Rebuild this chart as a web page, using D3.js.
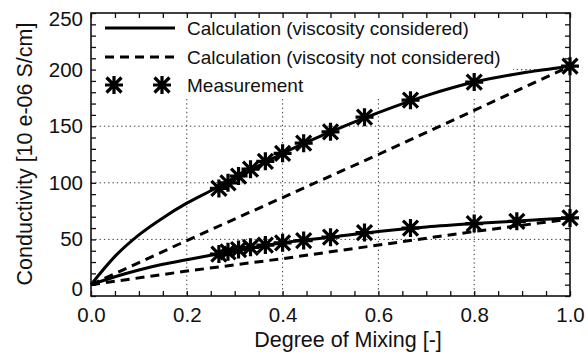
<!DOCTYPE html>
<html>
<head>
	<meta charset="utf-8">
	<style type="text/css">
		html, body {
			margin: 0;
			background-color: #fff;
		}
		svg text {
			font-family: "Liberation Sans", Arial, Helvetica, sans-serif;
			fill: #111;
		}
	</style>
</head>
<body>
	<svg id="chart" width="588" height="355"></svg>
	<script src="https://unpkg.com/d3@7.0.1/dist/d3.min.js"></script>
	<script type="text/javascript">
		// calculated curves
		const calcX = [0, 0.05, 0.1, 0.15, 0.2, 0.25, 0.3, 0.35, 0.4, 0.5, 0.6, 0.7, 0.8, 0.9, 1.0];
		const calcViscHigh = [10, 35, 54, 69, 82, 93, 104, 115, 126, 145, 162, 177, 189, 197, 203];
		const calcViscLow = [10, 17, 23, 28, 32, 36, 40, 43.5, 47, 52, 57, 61, 64, 66.5, 69];

		const noViscX = [0, 0.2, 0.4, 0.6, 0.8, 1.0];
		const noViscHigh = [10, 49, 87, 125, 164, 203];
		const noViscLow = [10, 22, 33, 45, 57, 68];

		// measurements
		const measHighX = [0.267, 0.286, 0.308, 0.333, 0.364, 0.4, 0.444, 0.5, 0.571, 0.667, 0.8, 1.0];
		const measHigh = [95, 100, 106, 112, 119, 126, 135, 145, 158, 173, 189, 203];
		const measLowX = [0.267, 0.286, 0.308, 0.333, 0.364, 0.4, 0.444, 0.5, 0.571, 0.667, 0.8, 0.889, 1.0];
		const measLow = [37, 39, 41, 43, 45, 47, 49, 52, 56, 60, 64, 66, 69];

		const xTicks = [0, 0.2, 0.4, 0.6, 0.8, 1.0];
		const yTicks = [0, 50, 100, 150, 200, 250];
		const legendLabels = ['Calculation (viscosity considered)', 'Calculation (viscosity not considered)', 'Measurement'];

		const svg = d3.select('#chart');
		const margin = { top: 13, right: 18, bottom: 59, left: 91 };
		const width = 588 - margin.left - margin.right;
		const height = 355 - margin.top - margin.bottom;

		const x = d3.scaleLinear().domain([0, 1]).range([0, width]);
		const y = d3.scaleLinear().domain([0, 250]).range([height, 0]);

		const g = svg.append('g').attr('transform', `translate(${margin.left},${margin.top})`);

		// dotted grid
		const grid = g.append('g').attr('stroke', '#333').attr('stroke-width', 1).attr('stroke-dasharray', '1.3,3');
		grid.selectAll('.gx').data(xTicks.slice(1, -1)).join('line')
			.attr('x1', d => x(d)).attr('x2', d => x(d))
			.attr('y1', 0).attr('y2', height);
		grid.selectAll('.gy').data(yTicks.slice(1, -1)).join('line')
			.attr('x1', 0).attr('x2', width)
			.attr('y1', d => y(d)).attr('y2', d => y(d));

		// legend background hides grid
		g.append('rect').attr('x', 1).attr('y', 1).attr('width', 421).attr('height', 84).attr('fill', '#fff');

		// ticks (inward, minor every 0.05 / 10)
		const minorX = d3.range(0, 1.0001, 0.05);
		const minorY = d3.range(0, 250.001, 10);
		const tickLen = 5;
		const tickAxes = [
			d3.axisBottom(x).tickValues(minorX).tickSize(-tickLen).tickFormat(''),
			d3.axisTop(x).tickValues(minorX).tickSize(-tickLen).tickFormat(''),
			d3.axisLeft(y).tickValues(minorY).tickSize(-tickLen).tickFormat(''),
			d3.axisRight(y).tickValues(minorY).tickSize(-tickLen).tickFormat('')
		];
		const tickPos = [`translate(0,${height})`, 'translate(0,0)', 'translate(0,0)', `translate(${width},0)`];
		tickAxes.forEach((ax, i) => {
			const a = g.append('g').attr('transform', tickPos[i]).call(ax);
			a.select('.domain').remove();
			a.selectAll('line').attr('stroke', '#111').attr('stroke-width', 1.3);
		});

		// tick labels
		const xLab = g.append('g').attr('transform', `translate(0,${height})`)
			.call(d3.axisBottom(x).tickValues(xTicks).tickSize(0).tickPadding(11).tickFormat(d3.format('.1f')));
		xLab.select('.domain').remove();
		xLab.selectAll('text').style('font-size', '20.5px').style('font-family', '"Liberation Sans", Arial, sans-serif').attr('fill', '#111');

		const yLab = g.append('g')
			.call(d3.axisLeft(y).tickValues(yTicks).tickSize(0).tickPadding(8).tickFormat(d3.format('d')));
		yLab.select('.domain').remove();
		yLab.selectAll('text').style('font-size', '20.5px').style('font-family', '"Liberation Sans", Arial, sans-serif').attr('fill', '#111')
			// end labels sit slightly inside the frame, as in the original
			.attr('y', d => d === 0 ? -7 : (d === 250 ? 6 : 0));

		// frame
		g.append('rect').attr('width', width).attr('height', height)
			.attr('fill', 'none').attr('stroke', '#111').attr('stroke-width', 1.6);

		// curves
		const smooth = d3.line().curve(d3.curveMonotoneX).x(d => x(d[0])).y(d => y(d[1]));
		const straight = d3.line().x(d => x(d[0])).y(d => y(d[1]));
		const series = [
			{ pts: d3.zip(calcX, calcViscHigh), gen: smooth, dash: null },
			{ pts: d3.zip(calcX, calcViscLow), gen: smooth, dash: null },
			{ pts: d3.zip(noViscX, noViscHigh), gen: straight, dash: '9,6' },
			{ pts: d3.zip(noViscX, noViscLow), gen: straight, dash: '9,6' }
		];
		series.forEach(s => {
			g.append('path').attr('d', s.gen(s.pts))
				.attr('fill', 'none').attr('stroke', '#000').attr('stroke-width', 3)
				.attr('stroke-dasharray', s.dash);
		});

		// asterisk marker
		const r = 9, rd = 7.5;
		const star = `M${-r},0L${r},0M0,${-r}L0,${r}M${-rd},${-rd}L${rd},${rd}M${-rd},${rd}L${rd},${-rd}`;
		const meas = d3.zip(measHighX, measHigh).concat(d3.zip(measLowX, measLow));
		g.append('g').selectAll('path').data(meas).join('path')
			.attr('transform', d => `translate(${x(d[0])},${y(d[1])})`)
			.attr('d', star).attr('fill', 'none').attr('stroke', '#000').attr('stroke-width', 3.2);

		// legend
		const leg = g.append('g');
		const rowY = [15, 44, 72];
		leg.append('line').attr('x1', 14).attr('x2', 84).attr('y1', rowY[0]).attr('y2', rowY[0])
			.attr('stroke', '#000').attr('stroke-width', 3);
		leg.append('line').attr('x1', 14).attr('x2', 84).attr('y1', rowY[1]).attr('y2', rowY[1])
			.attr('stroke', '#000').attr('stroke-width', 3).attr('stroke-dasharray', '9,6');
		[23, 71].forEach(cx => {
			leg.append('path').attr('transform', `translate(${cx},${rowY[2]})`)
				.attr('d', star).attr('fill', 'none').attr('stroke', '#000').attr('stroke-width', 3.2);
		});
		leg.selectAll('text').data(legendLabels).join('text')
			.attr('x', 96).attr('y', (d, i) => rowY[i]).attr('dy', '0.35em')
			.style('font-size', '19px').text(d => d);

		// axis titles
		svg.append('text').attr('x', 348).attr('y', 347).attr('text-anchor', 'middle')
			.style('font-size', '21.5px').text('Degree of Mixing [-]');
		svg.append('text').attr('transform', 'translate(32,154) rotate(-90)').attr('text-anchor', 'middle')
			.style('font-size', '21.5px').text('Conductivity [10 e-06 S/cm]');
	</script>
</body>
</html>
